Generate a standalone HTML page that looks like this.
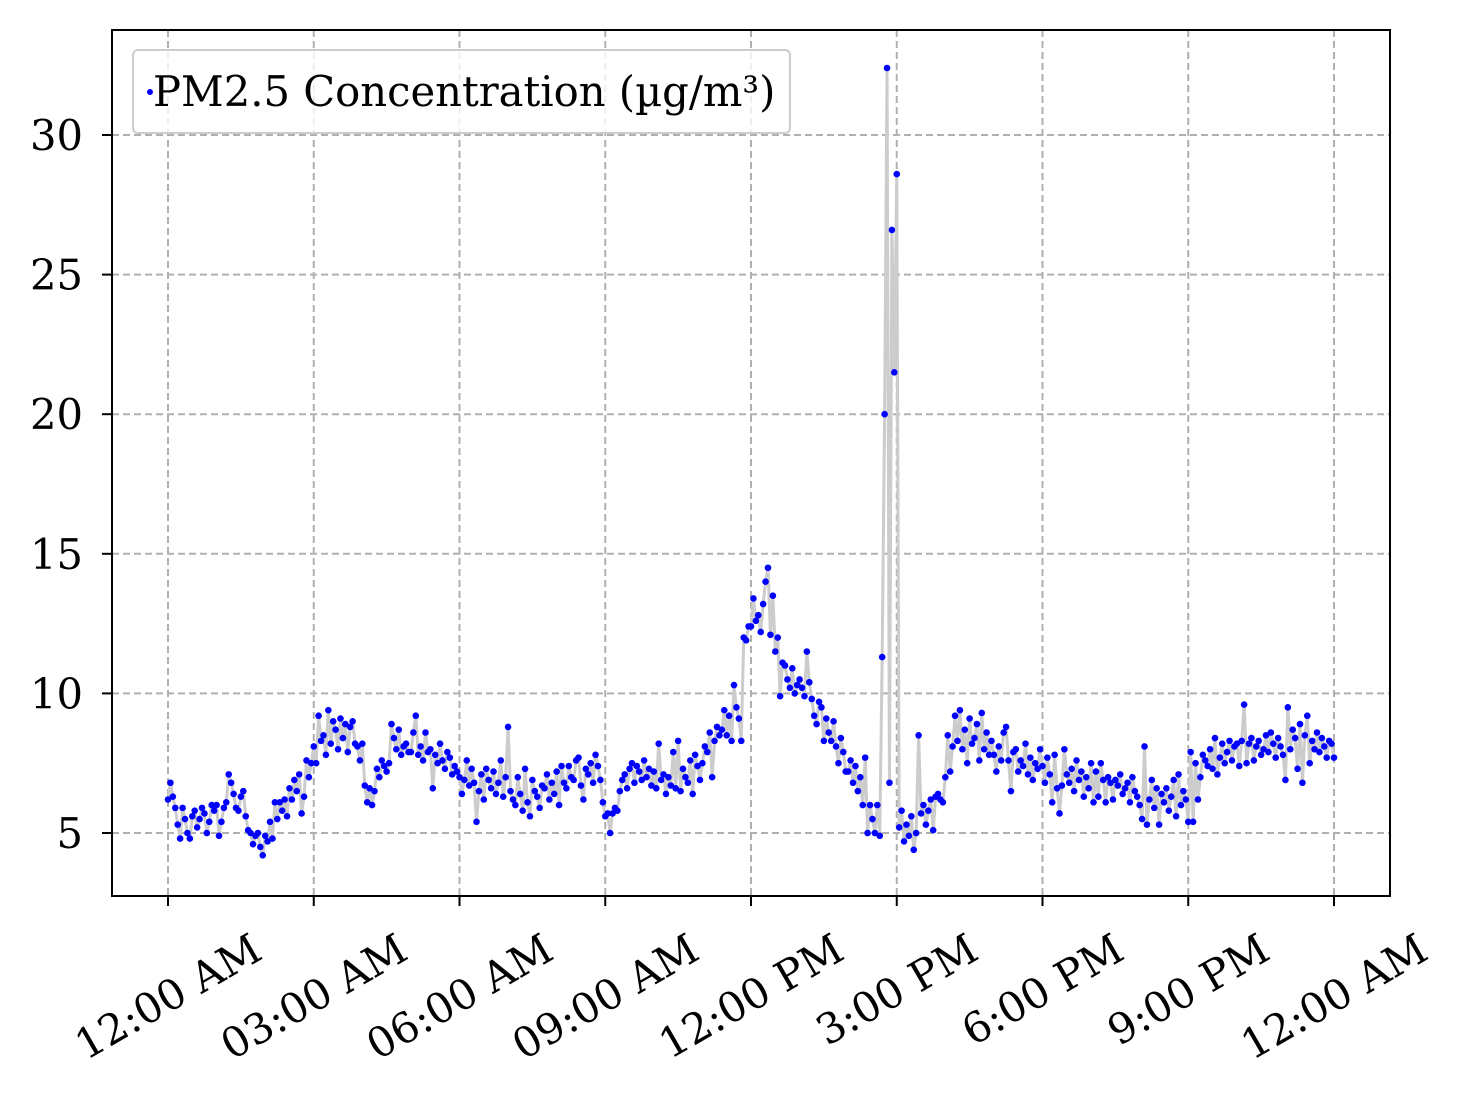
<!DOCTYPE html>
<html><head><meta charset="utf-8"><style>
html,body{margin:0;padding:0;background:#fff;}
svg{display:block;font-family:"DejaVu Serif","Liberation Serif",serif;}
</style></head><body>
<svg id="chart" width="1463" height="1095" viewBox="0 0 1463 1095">
<g id="grid"></g>
<g id="series"></g>
<rect x="112" y="30" width="1278" height="866" fill="none" stroke="#000" stroke-width="2"/>
<g id="axes"></g>
<g>
<rect x="133" y="50" width="657" height="83" rx="5" fill="#fff" fill-opacity="0.8" stroke="#ccc" stroke-width="2"/>
<circle cx="150" cy="92" r="3" fill="#0000ff"/>
<text x="153" y="106" font-size="41.7" fill="#000">PM2.5 Concentration (µg/m³)</text>
</g>
</svg>
<script>
const xTickLabels = ["12:00 AM","03:00 AM","06:00 AM","09:00 AM","12:00 PM","3:00 PM","6:00 PM","9:00 PM","12:00 AM"];
const xTickMinutes = [0,180,360,540,720,900,1080,1260,1440];
const yTicks = [5,10,15,20,25,30];
const intervalMinutes = 3;
const pm25 = [
6.2,6.8,6.3,5.9,5.3,4.8,5.9,5.5,5.0,4.8,5.6,5.8,5.2,5.5,5.9,5.7,5.0,5.4,6.0,5.8,
6.0,4.9,5.4,5.9,6.1,7.1,6.8,6.4,5.9,5.8,6.3,6.5,5.6,5.1,5.0,4.6,4.9,5.0,4.5,4.2,
4.9,4.7,5.4,4.8,6.1,5.5,6.1,5.8,6.2,5.6,6.6,6.2,6.9,6.5,7.1,5.7,6.3,7.6,7.0,7.5,
8.1,7.5,9.2,8.3,8.5,7.8,9.4,8.2,9.0,8.7,8.0,9.1,8.4,8.9,7.9,8.8,9.0,8.2,8.1,7.6,
8.2,6.7,6.1,6.6,6.0,6.5,7.3,7.0,7.6,7.4,7.2,7.5,8.9,8.4,8.0,8.7,7.8,8.1,8.2,7.9,
7.9,8.6,9.2,7.8,8.1,7.6,8.6,7.9,8.0,6.6,7.8,7.5,8.2,7.6,7.3,7.9,7.7,7.1,7.4,7.2,
7.0,6.4,6.9,7.6,6.7,7.3,6.8,5.4,6.5,7.1,6.2,7.3,6.9,6.6,7.2,6.4,6.8,7.6,6.3,7.0,
8.8,6.5,6.2,6.0,7.0,6.4,5.8,7.3,6.1,5.6,6.9,6.5,6.3,5.9,6.7,6.6,7.1,6.2,6.8,6.4,
7.2,6.0,7.4,6.8,6.6,7.4,7.0,6.9,7.6,7.7,6.7,6.2,7.3,7.1,7.5,6.8,7.8,7.4,6.9,6.1,
5.6,5.7,5.0,5.7,5.9,5.8,6.5,6.9,7.1,6.6,7.3,7.5,6.8,7.4,7.2,6.9,7.6,7.0,7.3,6.7,
7.2,6.6,8.2,6.9,7.1,6.4,7.0,6.7,7.9,6.6,8.3,6.5,7.3,7.0,6.8,7.6,6.4,7.8,7.4,6.9,
7.5,8.1,7.9,8.6,7.0,8.3,8.8,8.5,8.7,9.4,8.5,9.2,8.3,10.3,9.5,9.1,8.3,12.0,11.9,12.4,
12.4,13.4,12.6,12.8,12.2,13.2,14.0,14.5,12.1,13.5,11.5,12.0,9.9,11.1,11.0,10.5,10.2,10.9,10.0,10.3,
10.5,10.2,9.9,11.5,10.4,9.8,9.2,8.9,9.7,9.5,8.3,9.1,8.6,8.3,9.0,8.1,7.5,8.4,7.9,7.2,
7.2,7.6,6.8,7.4,6.5,7.0,6.0,7.7,5.0,6.0,5.5,5.0,6.0,4.9,11.3,20.0,32.4,6.8,26.6,21.5,
28.6,5.2,5.8,4.7,5.3,4.9,5.6,4.4,5.0,8.5,5.7,6.0,5.3,5.8,6.2,5.1,6.3,6.4,6.2,6.1,
7.0,8.5,7.2,8.1,9.2,8.3,9.4,8.0,8.7,7.5,9.1,8.2,8.4,8.9,7.6,9.3,8.0,8.6,7.8,8.3,
7.8,7.2,8.1,7.6,8.6,8.8,7.6,6.5,7.9,8.0,7.2,7.6,7.4,8.2,7.1,7.7,6.9,7.5,7.3,8.0,
7.4,6.8,7.7,7.1,6.1,7.8,6.6,5.7,6.7,8.0,7.1,6.8,7.3,6.5,7.6,6.9,7.2,6.3,7.0,6.6,
7.5,6.1,7.2,6.3,7.5,6.9,6.1,7.0,6.8,6.2,6.9,6.7,7.1,6.4,6.6,6.8,6.1,7.0,6.5,6.3,
6.0,5.5,8.1,5.3,6.2,6.9,5.9,6.6,5.3,6.4,6.1,6.6,5.8,6.3,6.9,5.6,7.1,6.0,6.5,6.2,
5.4,7.9,5.4,7.5,6.2,7.0,7.8,7.6,7.4,8.0,7.3,8.4,7.1,7.7,8.2,7.5,7.9,8.3,7.6,8.1,
8.2,7.4,8.3,9.6,7.5,8.2,8.4,7.6,8.1,8.3,7.8,8.0,8.5,7.9,8.6,8.2,7.7,8.4,8.1,7.8,
6.9,9.5,8.0,8.7,8.4,7.3,8.9,6.8,8.5,9.2,7.5,8.3,8.0,8.6,7.9,8.4,8.1,7.7,8.3,8.2,
7.7
];
const NS="http://www.w3.org/2000/svg";
function xScale(m){return 168+(m/1440)*(1334-168);}
function yScale(v){return 833-(v-5)*(833-135)/25;}
const grid=document.getElementById('grid'),axes=document.getElementById('axes'),series=document.getElementById('series');
function mk(tag,attrs,parent){const e=document.createElementNS(NS,tag);for(const k in attrs)e.setAttribute(k,attrs[k]);parent.appendChild(e);return e;}
const FS=41.7;
xTickMinutes.forEach((m,i)=>{
  const x=xScale(m);
  const g=mk('line',{x1:x,x2:x,y1:30,y2:896,stroke:'#b0b0b0','stroke-width':2,'stroke-dasharray':'7,4'},grid);
  
  
  const t=mk('line',{x1:x,x2:x,y1:896,y2:906,stroke:'#000','stroke-width':2},axes);
  
  
  const lb=mk('text',{x:x,y:0,'font-size':FS,'text-anchor':'middle','dominant-baseline':'central'},axes);
  lb.textContent=xTickLabels[i];
  
  
  const w=lb.getComputedTextLength();
  const h=FS*0.95;
  const bh=w*0.5+h*0.866;
  const cy=928+bh/2;
  lb.setAttribute('y',cy);
  lb.setAttribute('transform',`rotate(-30 ${x} ${cy})`);
});
yTicks.forEach(v=>{
  const y=yScale(v);
  const g=mk('line',{x1:112,x2:1390,y1:y,y2:y,stroke:'#b0b0b0','stroke-width':2,'stroke-dasharray':'7,4'},grid);
  
  
  const t=mk('line',{x1:102,x2:112,y1:y,y2:y,stroke:'#000','stroke-width':2},axes);
  
  
  const lb=mk('text',{x:83,y:y+15,'font-size':FS,'text-anchor':'end'},axes);
  lb.textContent=String(v);
  
  
});
const pts=pm25.map((v,i)=>[xScale(i*intervalMinutes),yScale(v)]);
const line=mk('polyline',{points:pts.map(p=>p.join(',')).join(' '),fill:'none',stroke:'#cccccc','stroke-width':3,'stroke-linejoin':'round'},series);


pts.forEach(p=>{
  const c=mk('circle',{cx:p[0],cy:p[1],r:3.3,fill:'#0000ff'},series);
  
  
});
</script>
</body></html>
